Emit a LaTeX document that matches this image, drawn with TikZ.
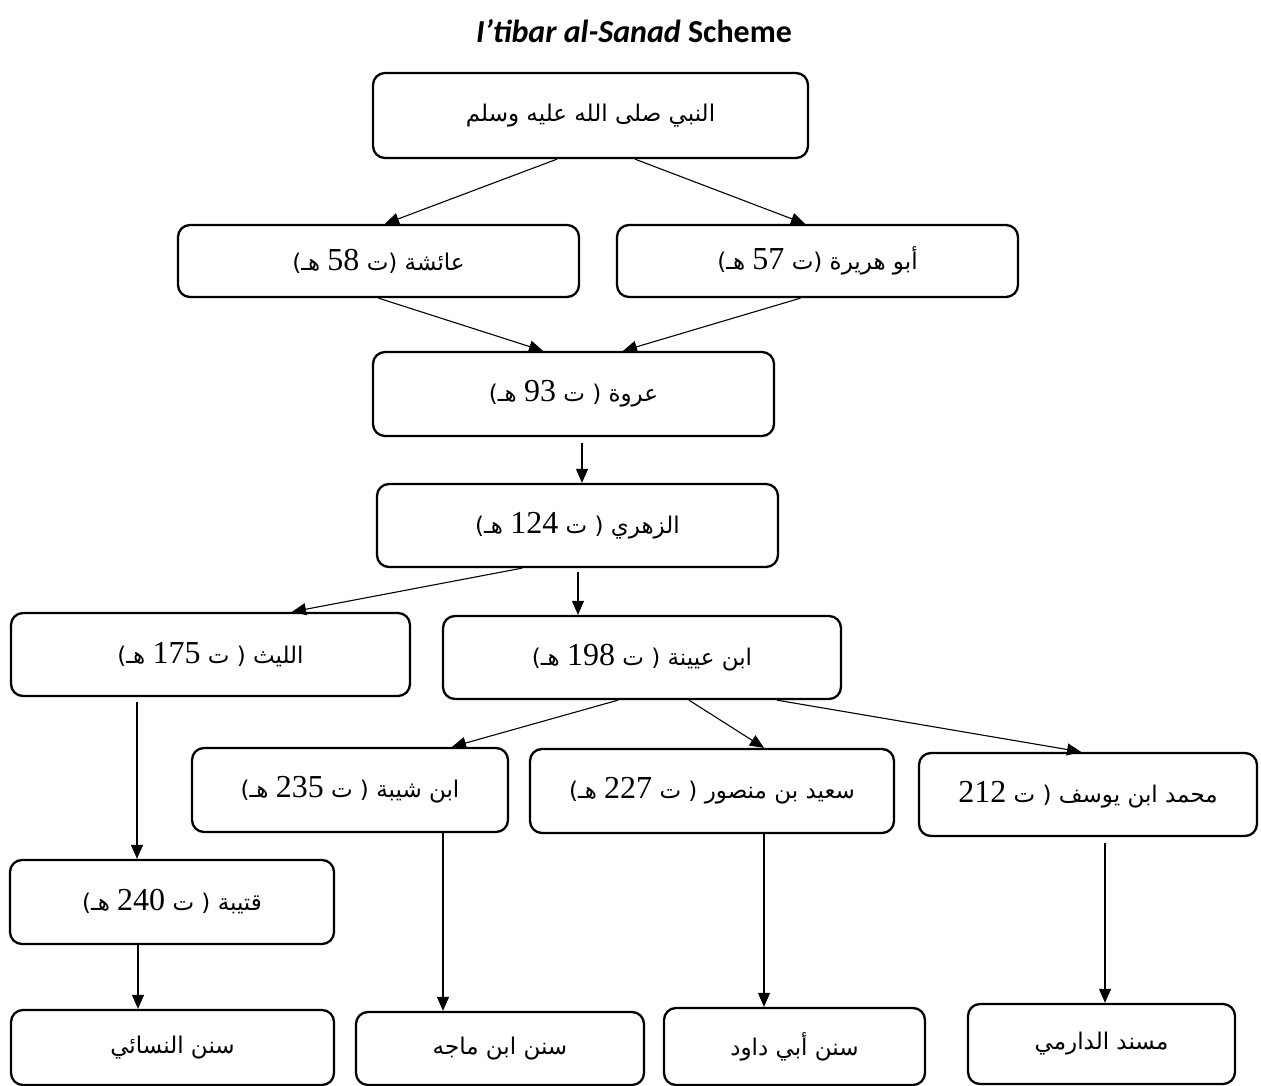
\documentclass[tikz,border=0pt]{standalone}
\usepackage{fontspec}
\setmainfont{Liberation Serif}
\newfontfamily\arabicfont[Script=Arabic]{DejaVu Sans}
\newfontfamily\titlefont{Carlito}
\TeXXeTstate=1
\usetikzlibrary{arrows.meta}
\newcommand{\artext}[1]{{\arabicfont\fontsize{23}{27}\selectfont\beginR #1\endR}}
\newcommand{\dignum}[1]{\beginL{\rmfamily\fontsize{32}{32}\selectfont #1}\endL}
\tikzset{
  nbox/.style={draw, line width=2.3pt, rounded corners=12pt, inner sep=0pt},
  arr/.style={line width=1.1pt, -{Triangle[length=14pt,width=12pt]}}
}
\begin{document}
\begin{tikzpicture}[x=1pt,y=-1pt]
\useasboundingbox (0,0) rectangle (1261,1086);
\node[font=\titlefont\bfseries\fontsize{32}{36}\selectfont] (title) at (634,31) {\textit{I’tibar al-Sanad} Scheme};

\node[nbox, minimum width=435pt, minimum height=85pt] (nabi) at (590.5,115.5) {\raisebox{-4pt}{\artext{النبي صلى الله عليه وسلم}}};
\node[nbox, minimum width=401pt, minimum height=72pt] (aisha) at (378.5,261) {\raisebox{-6pt}{\artext{عائشة (ت \dignum{58} هـ)}}};
\node[nbox, minimum width=401pt, minimum height=72pt] (abuh) at (817.5,261) {\raisebox{-6pt}{\artext{أبو هريرة (ت \dignum{57} هـ)}}};
\node[nbox, minimum width=401pt, minimum height=84pt] (urwa) at (573.5,394) {\artext{عروة ( ت \dignum{93} هـ)}};
\node[nbox, minimum width=401pt, minimum height=83pt] (zuhri) at (577.5,525.5) {\artext{الزهري ( ت \dignum{124} هـ)}};
\node[nbox, minimum width=399pt, minimum height=83pt] (layth) at (210.5,654.5) {\artext{الليث ( ت \dignum{175} هـ)}};
\node[nbox, minimum width=398pt, minimum height=83pt] (uyayna) at (642,657.5) {\artext{ابن عيينة ( ت \dignum{198} هـ)}};
\node[nbox, minimum width=316pt, minimum height=84pt] (shayba) at (350,790) {\artext{ابن شيبة ( ت \dignum{235} هـ)}};
\node[nbox, minimum width=364pt, minimum height=84pt] (said) at (712,791) {\artext{سعيد بن منصور ( ت \dignum{227} هـ)}};
\node[nbox, minimum width=338pt, minimum height=83pt] (muhammad) at (1088,794.5) {\artext{محمد ابن يوسف ( ت \dignum{212}}};
\node[nbox, minimum width=324pt, minimum height=84pt] (qutayba) at (172,902) {\artext{قتيبة ( ت \dignum{240} هـ)}};
\node[nbox, minimum width=323pt, minimum height=75pt] (nasai) at (172.5,1047.5) {\artext{سنن النسائي}};
\node[nbox, minimum width=288pt, minimum height=73pt] (majah) at (500,1048.5) {\artext{سنن ابن ماجه}};
\node[nbox, minimum width=261pt, minimum height=77pt] (dawud) at (794.5,1046.5) {\artext{سنن أبي داود}};
\node[nbox, minimum width=267pt, minimum height=80pt] (darimi) at (1101.5,1044) {\artext{مسند الدارمي}};

\draw[arr] ([xshift=-33.5pt]nabi.south) -- ([xshift=6.5pt]aisha.north);
\draw[arr] ([xshift=44.5pt]nabi.south) -- ([xshift=-12.5pt]abuh.north);
\draw[arr] (aisha.south) -- ([xshift=-30.5pt]urwa.north);
\draw[arr] ([xshift=-17pt]abuh.south) -- ([xshift=49.5pt]urwa.north);
\draw[arr] ([xshift=8.5pt,yshift=-6pt]urwa.south) -- ([xshift=8.5pt]urwa.south |- zuhri.north);
\draw[arr] ([xshift=-55.5pt]zuhri.south) -- ([xshift=81.5pt]layth.north);
\draw[arr] ([xshift=0.5pt,yshift=-4pt]zuhri.south) -- ([xshift=0.5pt]zuhri.south |- uyayna.north);
\draw[arr] ([xshift=-24pt]uyayna.south) -- ([xshift=102pt]shayba.north);
\draw[arr] ([xshift=47pt]uyayna.south) -- ([xshift=52pt]said.north);
\draw[arr] ([xshift=135pt]uyayna.south) -- ([xshift=-7pt]muhammad.north);
\draw[arr] ([xshift=-73.5pt,yshift=-5pt]layth.south) -- ([xshift=-73.5pt]layth.south |- qutayba.north);
\draw[arr] ([xshift=-34pt]qutayba.south) -- ([xshift=-34pt]qutayba.south |- nasai.north);
\draw[arr] ([xshift=93pt]shayba.south) -- ([xshift=93pt]shayba.south |- majah.north);
\draw[arr] ([xshift=52pt]said.south) -- ([xshift=52pt]said.south |- dawud.north);
\draw[arr] ([xshift=17pt,yshift=-6pt]muhammad.south) -- ([xshift=17pt]muhammad.south |- darimi.north);
\end{tikzpicture}
\end{document}
